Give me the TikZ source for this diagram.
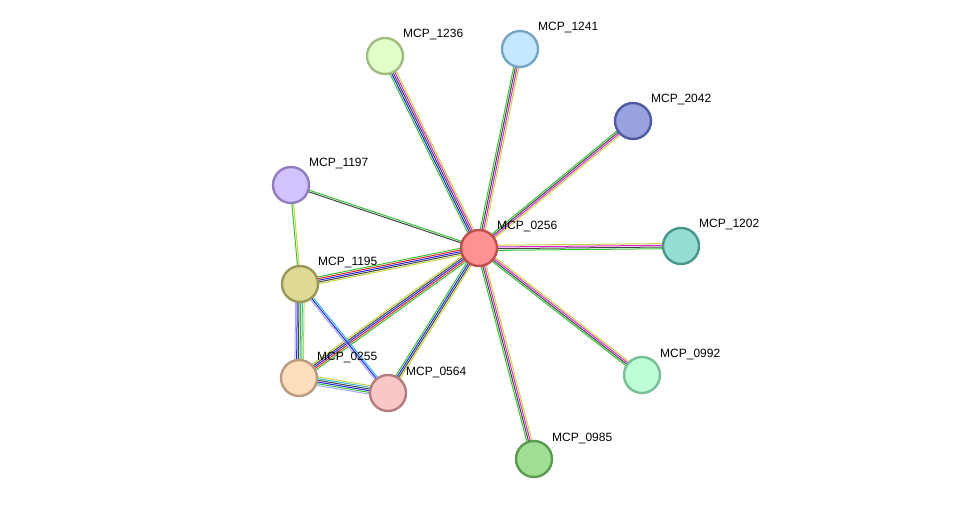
\documentclass[tikz,border=0pt]{standalone}
\usepackage{fontspec}
\setmainfont{Liberation Sans}
\usetikzlibrary{calc}
\definecolor{eg}{HTML}{33C633}
\definecolor{ek}{HTML}{444444}
\definecolor{eb}{HTML}{2222EE}
\definecolor{er}{HTML}{EE2222}
\definecolor{em}{HTML}{DD22DD}
\definecolor{ey}{HTML}{C4D43A}
\definecolor{ec}{HTML}{33B5D8}
\definecolor{el}{HTML}{A8A8FF}
\newcommand\edg[4]{%
  \foreach \c [count=\i] in {#4}{%
    \pgfmathsetmacro\o{(\i-(#3+1)/2)*1.7}%
    \draw[line width=1pt,\c] ($(#1)!\o pt!90:(#2)$) -- ($(#2)!\o pt!-90:(#1)$);
  }}
\tikzset{prot/.style={circle,minimum size=36pt,inner sep=0pt,line width=2.4pt},
  lab/.style={anchor=west,font=\fontsize{12}{14}\selectfont,inner sep=0pt}}
\begin{document}
\begin{tikzpicture}[x=1pt,y=-1pt]
\useasboundingbox (0,0) rectangle (976,505);
\foreach \n/\x/\y in {c0256/479/248,c1236/385/56,c1241/520/49,c2042/633/121,c1197/291/185,c1202/681/246,c1195/300/284,c0255/299/378,c0564/388/393,c0992/642/375,c0985/534/459}
  \coordinate (\n) at (\x,\y);
\edg{c1236}{c0256}{5}{eg,eb,ek,em,ey}
\edg{c1241}{c0256}{4}{eg,ek,em,ey}
\edg{c2042}{c0256}{4}{eg,ek,em,ey}
\edg{c0256}{c1202}{4}{eg,ek,em,ey}
\edg{c0256}{c0992}{4}{eg,ek,em,ey}
\edg{c0256}{c0985}{4}{eg,ek,em,ey}
\edg{c1197}{c0256}{2}{ek,eg}
\edg{c1195}{c0256}{5}{ey,ek,eb,er,eg}
\edg{c0255}{c0256}{5}{eg,er,eb,ek,ey}
\edg{c0564}{c0256}{4}{ey,ek,eb,eg}
\edg{c1197}{c1195}{2}{eg,ey}
\edg{c1195}{c0255}{6}{el,eb,ek,eg,ec,ey}
\edg{c1195}{c0564}{3}{el,eb,ec}
\edg{c0255}{c0564}{6}{el,eg,eb,ek,ec,ey}
\node[prot,fill={rgb,255:red,255;green,145;blue,145},draw={rgb,255:red,192;green,80;blue,80}] (n0256) at (c0256) {};
\node[prot,fill={rgb,255:red,225;green,255;blue,200},draw={rgb,255:red,160;green,190;blue,130}] (n1236) at (c1236) {};
\node[prot,fill={rgb,255:red,195;green,232;blue,255},draw={rgb,255:red,120;green,165;blue,195}] (n1241) at (c1241) {};
\node[prot,fill={rgb,255:red,152;green,162;blue,222},draw={rgb,255:red,80;green,90;blue,160}] (n2042) at (c2042) {};
\node[prot,fill={rgb,255:red,210;green,195;blue,255},draw={rgb,255:red,145;green,125;blue,190}] (n1197) at (c1197) {};
\node[prot,fill={rgb,255:red,150;green,222;blue,210},draw={rgb,255:red,75;green,150;blue,140}] (n1202) at (c1202) {};
\node[prot,fill={rgb,255:red,222;green,218;blue,150},draw={rgb,255:red,155;green,150;blue,85}] (n1195) at (c1195) {};
\node[prot,fill={rgb,255:red,255;green,222;blue,190},draw={rgb,255:red,185;green,155;blue,125}] (n0255) at (c0255) {};
\node[prot,fill={rgb,255:red,248;green,200;blue,200},draw={rgb,255:red,180;green,125;blue,125}] (n0564) at (c0564) {};
\node[prot,fill={rgb,255:red,190;green,255;blue,215},draw={rgb,255:red,120;green,190;blue,150}] (n0992) at (c0992) {};
\node[prot,fill={rgb,255:red,160;green,222;blue,150},draw={rgb,255:red,90;green,155;blue,80}] (n0985) at (c0985) {};
\foreach \n/\t in {0256/MCP\_0256,1236/MCP\_1236,1241/MCP\_1241,2042/MCP\_2042,1197/MCP\_1197,1202/MCP\_1202,1195/MCP\_1195,0255/MCP\_0255,0564/MCP\_0564,0992/MCP\_0992,0985/MCP\_0985}
  \node[lab] (l\n) at ($(c\n)+(18,-21)$) {\t};
\end{tikzpicture}
\end{document}
